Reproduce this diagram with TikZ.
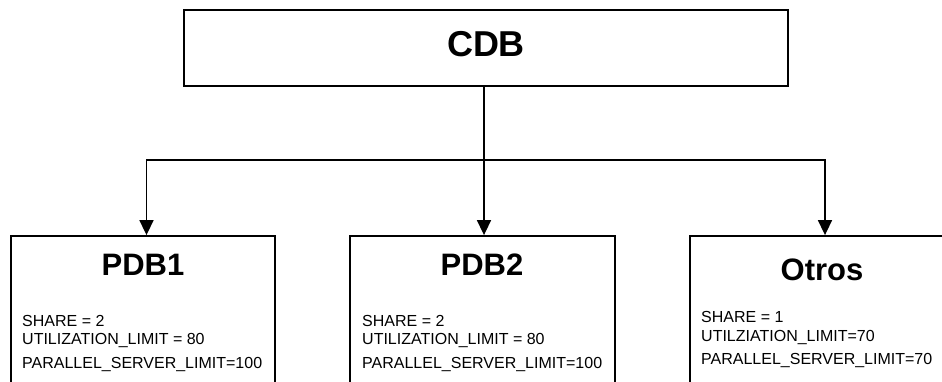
\documentclass[tikz,border=0pt]{standalone}
\usepackage{fontspec}
\setmainfont{Liberation Sans}
\usetikzlibrary{arrows.meta}
\tikzset{
  box/.style={draw=black, line width=1.8pt, rectangle, inner sep=0pt, fill=white},
  title/.style={font=\fontsize{31}{36}\selectfont\bfseries, inner sep=0pt, anchor=base},
  body/.style={font=\fontsize{16}{18}\selectfont, inner sep=0pt, anchor=base west},
  conn/.style={line width=1.6pt, -{Triangle[width=14pt,length=15pt]}},
  plain/.style={line width=1.6pt}
}
\begin{document}
\begin{tikzpicture}[x=1pt,y=-1pt]
\useasboundingbox (0,0) rectangle (942,382);
\fill[white] (0,0) rectangle (942,382);
\clip (0,0) rectangle (942,382);
% boxes
\node[box, minimum width=604pt, minimum height=76pt] (cdb) at (486,48) {};
\node[box, minimum width=264pt, minimum height=200pt] (p1) at (143,336) {};
\node[box, minimum width=265pt, minimum height=200pt] (p2) at (482.5,336) {};
\node[box, minimum width=272pt, minimum height=200pt] (p3) at (826,336) {};
% titles
\node[title, font=\fontsize{36}{40}\selectfont\bfseries] (tcdb) at (486,57) {CDB};
\node[title] (t1) at (143,275) {PDB1};
\node[title] (t2) at (482,275) {PDB2};
\node[title] (t3) at (822,280) {Otros};
% body text
\node[body] (a1) at (22,326) {SHARE = 2};
\node[body] (b1) at (22,344) {UTILIZATION\_LIMIT = 80};
\node[body] (c1) at (22,368) {PARALLEL\_SERVER\_LIMIT=100};
\node[body] (a2) at (362,326) {SHARE = 2};
\node[body] (b2) at (362,344) {UTILIZATION\_LIMIT = 80};
\node[body] (c2) at (362,368) {PARALLEL\_SERVER\_LIMIT=100};
\node[body] (a3) at (701,322) {SHARE = 1};
\node[body] (b3) at (701,341) {UTILZIATION\_LIMIT=70};
\node[body] (c3) at (701,364) {PARALLEL\_SERVER\_LIMIT=70};
% connector positions
\coordinate (x1) at (146.5,0);
\coordinate (x2) at (484,0);
\coordinate (x3) at (825,0);
\coordinate (j) at (484,160);
% connectors
\draw[conn] (cdb.south -| x2) -- (p2.north -| x2);
\draw[conn] (j) -| (p1.north -| x1);
\draw[conn] (j) -| (p3.north -| x3);
\end{tikzpicture}
\end{document}
